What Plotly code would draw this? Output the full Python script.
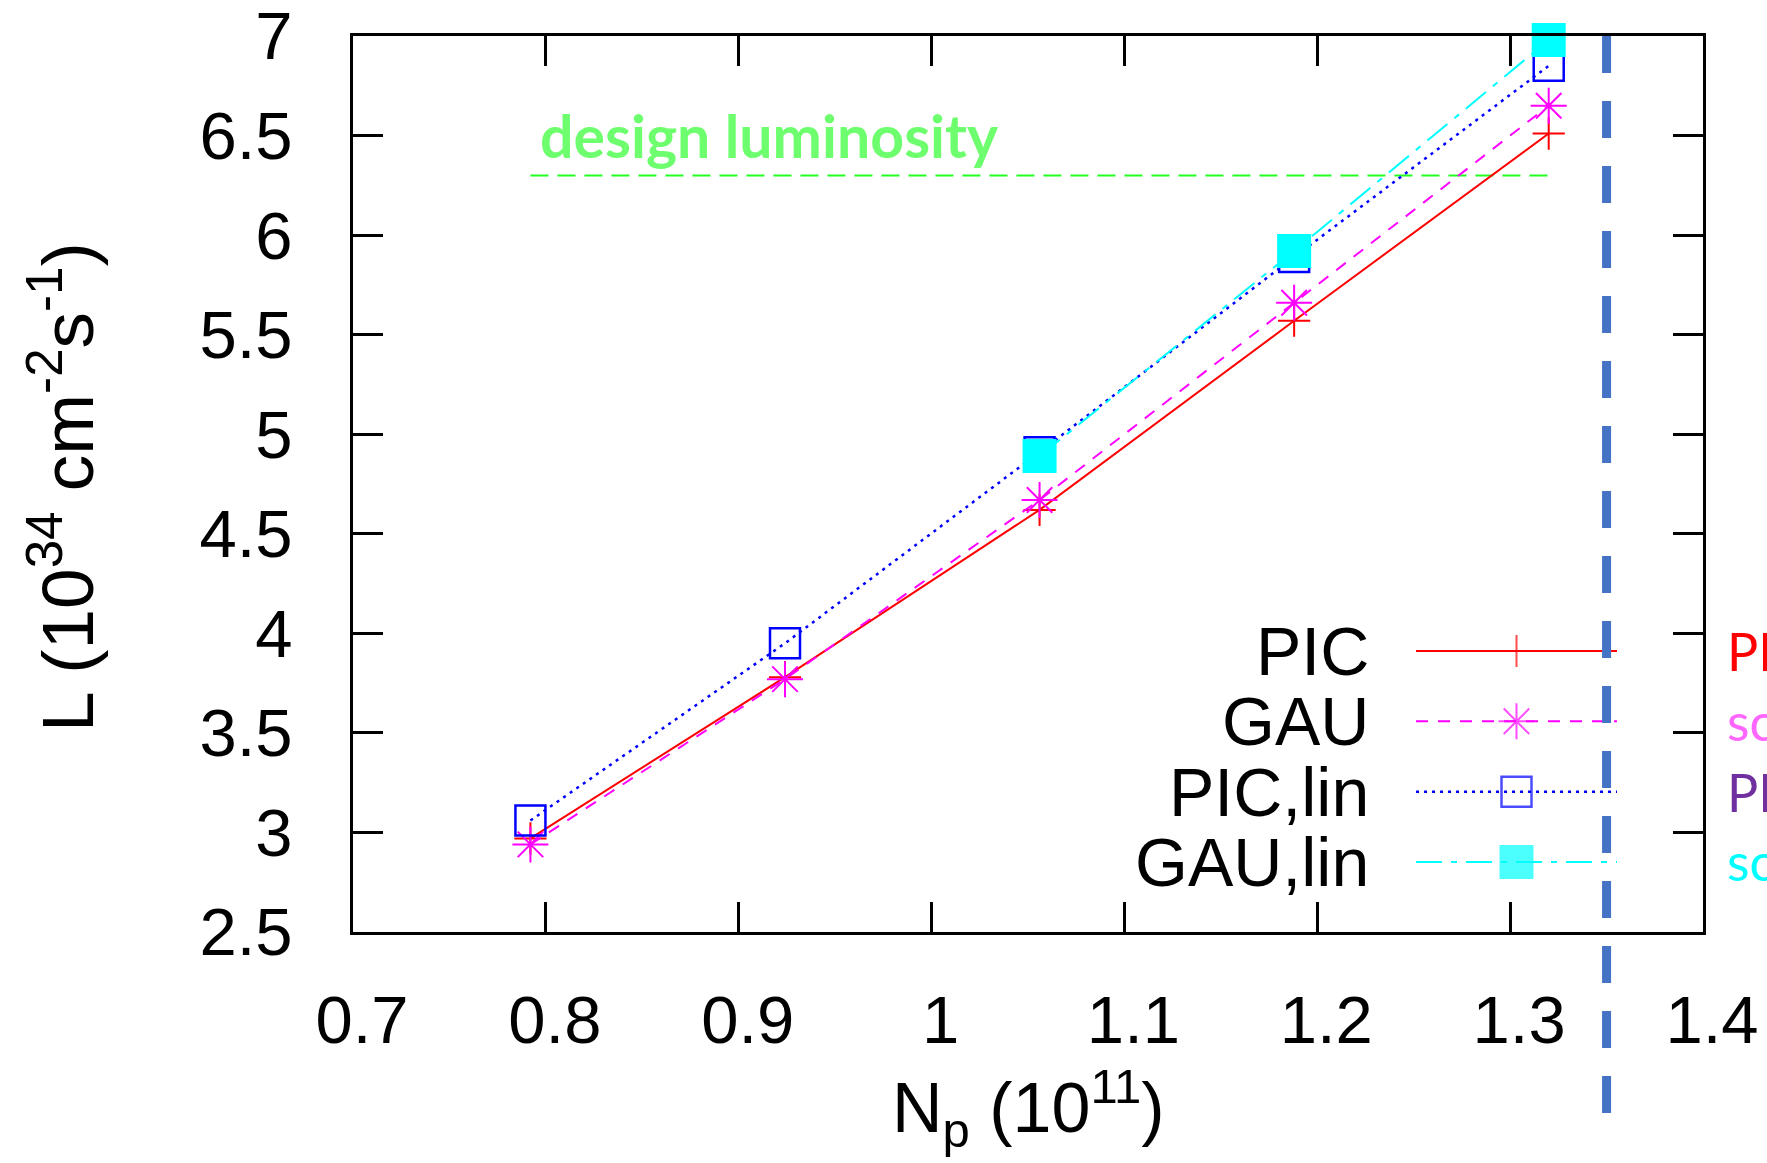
import plotly.graph_objects as go

# Bunch population (1e11) and luminosity (1e34 cm^-2 s^-1)
np_all = [0.792, 0.924, 1.056, 1.188, 1.320]
L_pic = [2.97, 3.78, 4.62, 5.57, 6.51]
L_gau = [2.94, 3.77, 4.67, 5.66, 6.65]
L_pic_lin = [3.06, 3.95, 4.91, 5.89, 6.85]
np_gau_lin = [1.056, 1.188, 1.320]
L_gau_lin = [4.89, 5.92, 6.98]

design_L = 6.3
np_limit = 1.35

series_names = ["PIC", "GAU", "PIC,lin", "GAU,lin"]
side_labels = ["PIC", "scaled", "PIC", "scaled"]
side_colors = ["#ff0000", "#ff66ff", "#7030a0", "#00ffff"]

styles = [
    dict(line=dict(color="#ff0000", width=2, dash="solid"),
         marker=dict(symbol="cross-thin-open", size=23, color="#ff0000",
                     line=dict(width=2, color="#ff0000"))),
    dict(line=dict(color="#ff00ff", width=2, dash="12px,10px"),
         marker=dict(symbol="asterisk-open", size=30, color="#ff00ff",
                     line=dict(width=2, color="#ff00ff"))),
    dict(line=dict(color="#0000ff", width=2.5, dash="3px,5px"),
         marker=dict(symbol="square-open", size=30, color="#0000ff",
                     line=dict(width=2.5, color="#0000ff"))),
    dict(line=dict(color="#00ffff", width=2, dash="26px,9px,6px,9px"),
         marker=dict(symbol="square", size=34, color="#00ffff",
                     line=dict(width=0))),
]
series_x = [np_all, np_all, np_all, np_gau_lin]
series_y = [L_pic, L_gau, L_pic_lin, L_gau_lin]

FONT = "Liberation Sans, Arial, sans-serif"
W, H = 1767, 1163
ML, MR, MT, MB = 353, 64, 36, 231

fig = go.Figure()

# design luminosity reference level
fig.add_trace(go.Scatter(
    x=[np_all[0], np_all[-1]], y=[design_L, design_L], mode="lines",
    line=dict(color="#22ff22", width=2, dash="18px,9px"),
    showlegend=False, hoverinfo="skip"))

for name, xs, ys, st in zip(series_names, series_x, series_y, styles):
    fig.add_trace(go.Scatter(
        x=xs, y=ys, name=name, mode="lines+markers",
        line=st["line"], marker=st["marker"],
        cliponaxis=False, showlegend=False))

# key samples drawn on a small hidden subplot (text on the left, sample on the right)
for i, st in enumerate(styles):
    mk = dict(st["marker"])
    mk["size"] = [0, st["marker"]["size"], 0]
    fig.add_trace(go.Scatter(
        x=[0, 0.5, 1], y=[i, i, i], mode="lines+markers",
        line=st["line"], marker=mk, cliponaxis=False,
        xaxis="x2", yaxis="y2", showlegend=False, hoverinfo="skip"))

plot_w = W - ML - MR
plot_h = H - MT - MB


def px_x(p):
    return (p - ML) / plot_w


def px_y(p):
    return (H - MB - p) / plot_h


annotations = []
for i, name in enumerate(series_names):
    annotations.append(dict(
        text=name, xref="paper", yref="y2", x=px_x(1371), y=i,
        xanchor="right", yanchor="middle", showarrow=False,
        font=dict(family=FONT, size=68, color="black")))

side_offsets = [0.0, 1.0, 2.0, 2.98]
for lab, col, yy in zip(side_labels, side_colors, side_offsets):
    annotations.append(dict(
        text=lab, xref="paper", yref="y2", x=px_x(1725), y=yy,
        xanchor="left", yanchor="middle", showarrow=False,
        font=dict(family="Lato, sans-serif", size=52, color=col)))

annotations.append(dict(
    text="design luminosity", xref="paper", yref="y", x=px_x(538), y=6.5,
    xanchor="left", yanchor="middle", showarrow=False,
    font=dict(family="Lato, sans-serif", size=59, color="#6dff6d", weight="bold")))

annotations.append(dict(
    text="N<sub>p</sub> (10<sup>11</sup>)", xref="paper", yref="paper",
    x=0.5, y=px_y(1108), xanchor="center", yanchor="middle", showarrow=False,
    font=dict(family=FONT, size=70, color="black")))

annotations.append(dict(
    text="L (10<sup>34</sup> cm<sup>-2</sup>s<sup>-1</sup>)", xref="paper", yref="paper",
    x=px_x(62), y=px_y(487), xanchor="center", yanchor="middle", textangle=-90,
    showarrow=False, font=dict(family=FONT, size=73, color="black")))

shapes = [dict(
    type="line", xref="x", yref="paper", x0=np_limit, x1=np_limit,
    y0=1.0, y1=px_y(1118), layer="above",
    line=dict(color="#4472c4", width=9, dash="37px,28px"))]

row_top = 651 - 35.2
row_bot = 862 + 35.2

axis_common = dict(
    showline=True, linecolor="black", linewidth=3, mirror="allticks",
    ticks="inside", ticklen=30, tickwidth=3, tickcolor="black",
    showgrid=False, zeroline=False, ticklabeloverflow="allow",
    automargin=False,
    tickfont=dict(family=FONT, size=67, color="black"))

fig.update_layout(
    width=W, height=H,
    margin=dict(l=ML, r=MR, t=MT, b=MB, pad=0, autoexpand=False),
    paper_bgcolor="white", plot_bgcolor="rgba(0,0,0,0)",
    xaxis=dict(range=[0.7, 1.4], dtick=0.1, tick0=0.7,
               ticklabelstandoff=28, ticklabelshift=9, **axis_common),
    yaxis=dict(range=[2.5, 7], dtick=0.5, tick0=2.5,
               ticklabelstandoff=44, **axis_common),
    xaxis2=dict(domain=[px_x(1416), px_x(1617)], range=[0, 1], visible=False,
                anchor="y2", fixedrange=True),
    yaxis2=dict(domain=[px_y(row_bot), px_y(row_top)], range=[3.5, -0.5],
                visible=False, anchor="x2", fixedrange=True),
    annotations=annotations, shapes=shapes, showlegend=False)

fig.write_html("out.html")
